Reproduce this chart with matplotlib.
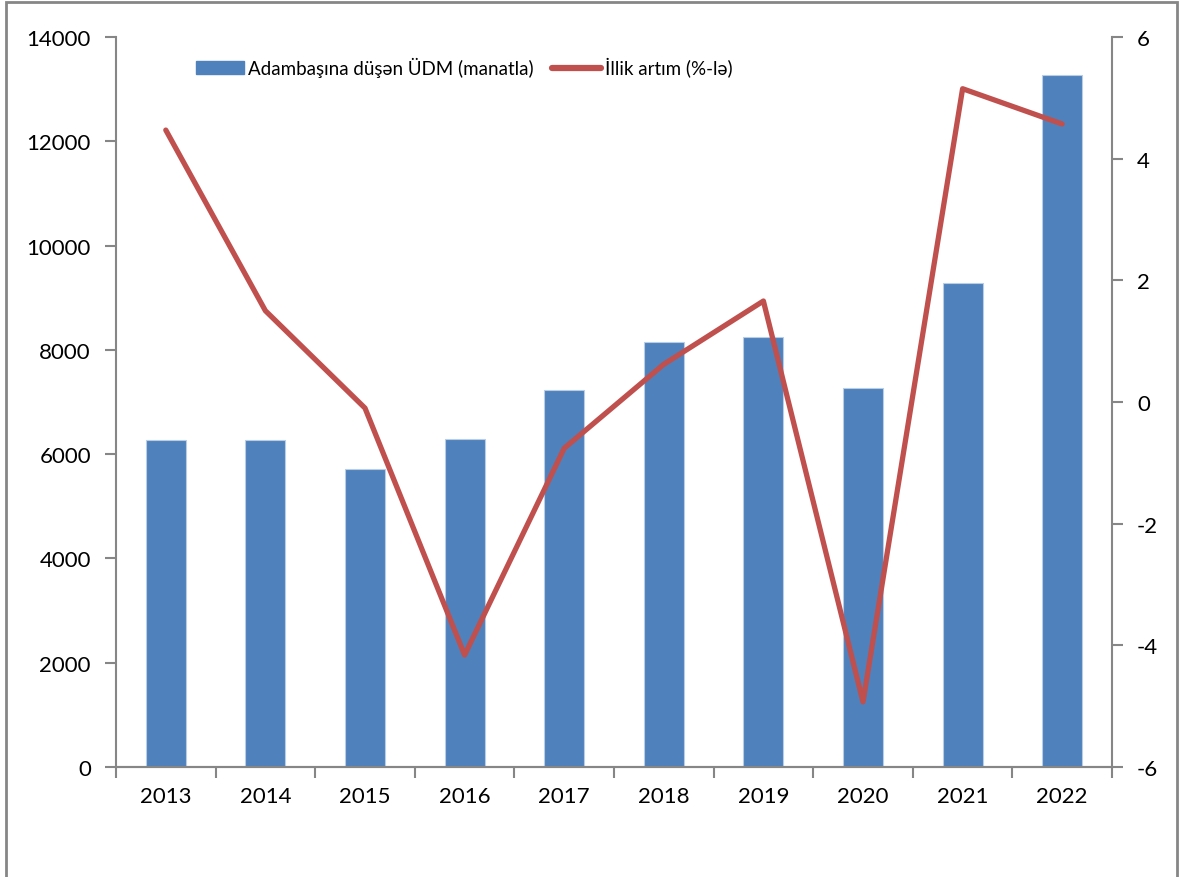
import matplotlib
matplotlib.use("Agg")
import matplotlib.pyplot as plt
from matplotlib.patches import Rectangle
from matplotlib.lines import Line2D
import numpy as np

years = ["2013", "2014", "2015", "2016", "2017", "2018", "2019", "2020", "2021", "2022"]
gdp_per_capita = [6270, 6270, 5710, 6290, 7230, 8150, 8250, 7270, 9280, 13270]
annual_growth = [4.47, 1.50, -0.10, -4.16, -0.76, 0.62, 1.66, -4.93, 5.15, 4.57]

BLUE = "#4F81BD"
RED = "#C0504D"
GRAY = "#868686"

plt.rcParams.update({
    "font.family": ["Lato", "DejaVu Sans"],
    "font.size": 16,
    "axes.unicode_minus": False,
})

fig = plt.figure(figsize=(11.79, 8.78), dpi=100)
ax = fig.add_axes([116 / 1179, 110 / 878, 996 / 1179, 730 / 878])
ax2 = ax.twinx()

x = np.arange(len(years))
ax.bar(x, gdp_per_capita, width=0.4, color=BLUE, edgecolor="#B9CDE5",
       linewidth=0.8, zorder=2)
ax2.plot(x, annual_growth, color=RED, linewidth=3.8, solid_joinstyle="round",
         solid_capstyle="round", zorder=3)

ax.set_xlim(-0.5, len(years) - 0.5)
ax.set_ylim(0, 14000)
ax.set_yticks(range(0, 14001, 2000))
ax2.set_ylim(-6, 6)
ax2.set_yticks(range(-6, 7, 2))

# category ticks between bars, labels centred under bars
ax.set_xticks(np.arange(-0.5, len(years), 1.0))
ax.set_xticklabels([])
ax.set_xticks(x, minor=True)
ax.set_xticklabels(years, minor=True)
ax.tick_params(axis="x", which="minor", length=0, pad=14)
ax.tick_params(axis="x", which="major", length=8, width=1.5, color=GRAY,
               direction="out")

for a in (ax, ax2):
    for s in a.spines.values():
        s.set_color(GRAY)
        s.set_linewidth(1.5)
    a.spines["top"].set_visible(False)
    a.tick_params(axis="y", length=8, width=1.5, color=GRAY, direction="out",
                  pad=10)
ax2.spines["left"].set_visible(False)
ax.spines["right"].set_visible(False)

handles = [
    Rectangle((0, 0), 1, 1, color=BLUE),
    Line2D([0], [0], color=RED, linewidth=4.5, solid_capstyle="round"),
]
labels = ["Adambaşına düşən ÜDM (manatla)", "İllik artım (%-lə)"]
fig.legend(handles, labels, loc="center", bbox_to_anchor=(464 / 1179, 1 - 68 / 878),
           ncol=2, frameon=False, handlelength=2.6, fontsize=13.5,
           handletextpad=0.2, columnspacing=1.0)

# outer chart border
fig.patches.append(Rectangle((6 / 1179, -0.1), 1171 / 1179, 1.1 - 3 / 878,
                             transform=fig.transFigure, fill=False,
                             edgecolor=GRAY, linewidth=2, clip_on=False))

fig.savefig("out.png", dpi=100)
